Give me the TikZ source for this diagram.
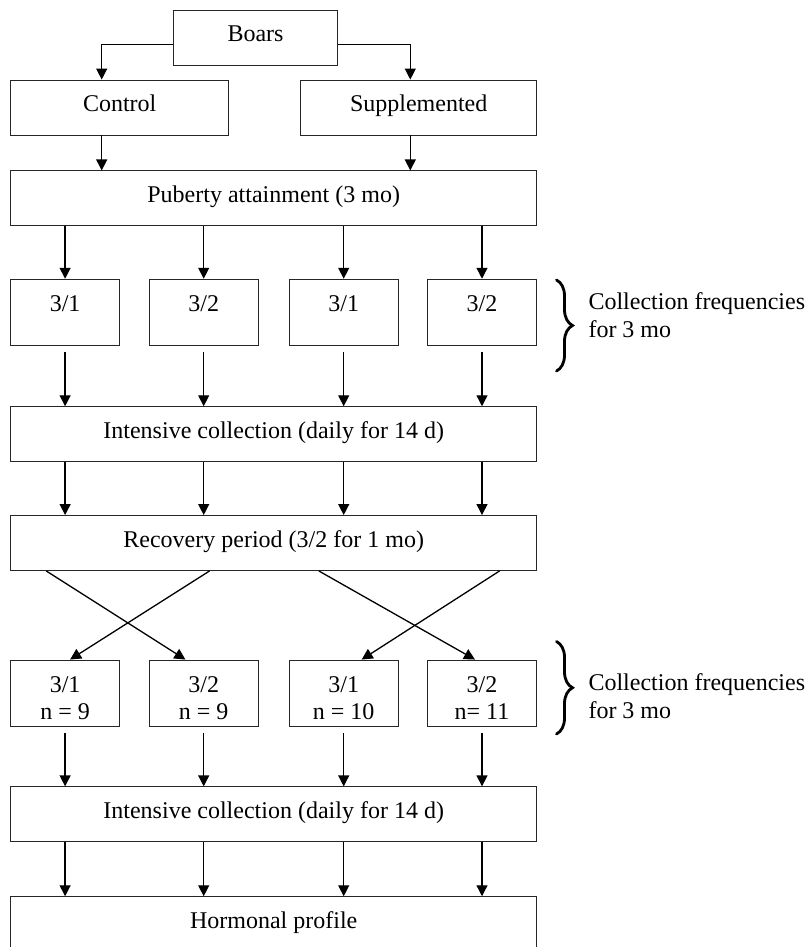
\documentclass[tikz,border=0pt]{standalone}
\usepackage{fontspec}
\setmainfont{Liberation Serif}
\usetikzlibrary{arrows.meta,decorations.pathreplacing}
\tikzset{every picture/.append style={x=1pt, y=-1pt}}
\tikzset{
    box/.style={draw=black!85, line width=0.9pt, inner sep=0pt, minimum height=55pt,
    	text height=14pt, text depth=6pt, font=\fontsize{24}{26.6}\selectfont},
    rowbox/.style={box, minimum width=109pt, minimum height=66pt,
    	text height=14pt, text depth=15pt},
    widebox/.style={box, minimum width=526pt},
    arr/.style={-{Triangle[length=11pt, width=11pt]}, line width=1.3pt},
    curly/.style={decorate, decoration={brace, amplitude=16pt}, line width=2.8pt,
    	line cap=round},
    side/.style={anchor=base west, inner sep=0pt, font=\fontsize{24}{28}\selectfont}
}
\newcommand{\twoline}[2]{\vtop{\baselineskip=26.6pt\halign{\hfil##\hfil\cr#1\cr#2\cr}}}
\newcommand{\leftlines}[2]{\vtop{\baselineskip=28pt\halign{##\hfil\cr#1\cr#2\cr}}}

\begin{document}
\begin{tikzpicture}
  \useasboundingbox (0,0) rectangle (809,947);

  \node (boars) [box, minimum width=163.6pt] at (255.5, 37.9) {Boars};
  \node (control) [box, minimum width=218pt] at (119.7, 107.5) {Control};
  \node (supp) [box, minimum width=236pt] at (418.7, 107.5) {Supplemented};
  \node (puberty) [widebox] at (273.7, 198.4) {Puberty attainment (3 mo)};

  \node (r1) [rowbox] at (65.1, 312.2) {3/1};
  \node (r2) [rowbox] at (203.7, 312.2) {3/2};
  \node (r3) [rowbox] at (343.7, 312.2) {3/1};
  \node (r4) [rowbox] at (482, 312.2) {3/2};

  \node (int1) [widebox] at (273.7, 434.2) {Intensive collection (daily for 14 d)};
  \node (rec) [widebox] at (273.7, 543) {Recovery period (3/2 for 1 mo)};

  \node (s1) [rowbox] at (65.1, 693) {\twoline{3/1}{n = 9}};
  \node (s2) [rowbox] at (203.7, 693) {\twoline{3/2}{n = 9}};
  \node (s3) [rowbox] at (343.7, 693) {\twoline{3/1}{n = 10}};
  \node (s4) [rowbox] at (482, 693) {\twoline{3/2}{n= 11}};

  \node (int2) [widebox] at (273.7, 814.3) {Intensive collection (daily for 14 d)};
  \node (horm) [widebox] at (273.7, 924.2) {Hormonal profile};

  \node (freq1) [side] at (588.3, 309.3) {\leftlines{Collection frequencies}{for 3 mo}};
  \node (freq2) [side] at (588.3, 690.7) {\leftlines{Collection frequencies}{for 3 mo}};

  \draw[arr] ([yshift=-6.4pt]boars.west) -| ([xshift=-18pt]control.north);
  \draw[arr] ([yshift=-6.4pt]boars.east) -| ([xshift=-8.4pt]supp.north);
  \draw[arr] ([xshift=-18pt]control.south) -- ([xshift=-18pt]control.south |- puberty.north);
  \draw[arr] ([xshift=-8.4pt]supp.south) -- ([xshift=-8.4pt]supp.south |- puberty.north);

  \draw[arr] (puberty.south -| r1.north) -- (r1.north);
  \draw[arr] (puberty.south -| r2.north) -- (r2.north);
  \draw[arr] (puberty.south -| r3.north) -- (r3.north);
  \draw[arr] (puberty.south -| r4.north) -- (r4.north);

  \draw[arr, shorten <=6.5pt] (r1.south) -- (r1.south |- int1.north);
  \draw[arr, shorten <=6.5pt] (r2.south) -- (r2.south |- int1.north);
  \draw[arr, shorten <=6.5pt] (r3.south) -- (r3.south |- int1.north);
  \draw[arr, shorten <=6.5pt] (r4.south) -- (r4.south |- int1.north);

  \draw[arr] (int1.south -| r1.north) -- (rec.north -| r1.north);
  \draw[arr] (int1.south -| r2.north) -- (rec.north -| r2.north);
  \draw[arr] (int1.south -| r3.north) -- (rec.north -| r3.north);
  \draw[arr] (int1.south -| r4.north) -- (rec.north -| r4.north);

  \draw[arr] ([xshift=36pt]rec.south west) -- ([xshift=-18.3pt]s2.north);
  \draw[arr] ([xshift=199.3pt]rec.south west) -- ([xshift=5pt]s1.north);
  \draw[arr] ([xshift=308.6pt]rec.south west) -- ([xshift=-7pt]s4.north);
  \draw[arr] ([xshift=489.3pt]rec.south west) -- ([xshift=18pt]s3.north);

  \draw[arr, shorten <=6.7pt] (s1.south) -- (s1.south |- int2.north);
  \draw[arr, shorten <=6.7pt] (s2.south) -- (s2.south |- int2.north);
  \draw[arr, shorten <=6.7pt] (s3.south) -- (s3.south |- int2.north);
  \draw[arr, shorten <=6.7pt] (s4.south) -- (s4.south |- int2.north);

  \draw[arr] (int2.south -| s1.north) -- (horm.north -| s1.north);
  \draw[arr] (int2.south -| s2.north) -- (horm.north -| s2.north);
  \draw[arr] (int2.south -| s3.north) -- (horm.north -| s3.north);
  \draw[arr] (int2.south -| s4.north) -- (horm.north -| s4.north);

  \draw[curly] (556.5, 280) -- (556.5, 371);
  \draw[curly] (556.5, 641.5) -- (556.5, 734);
\end{tikzpicture}
\end{document}
